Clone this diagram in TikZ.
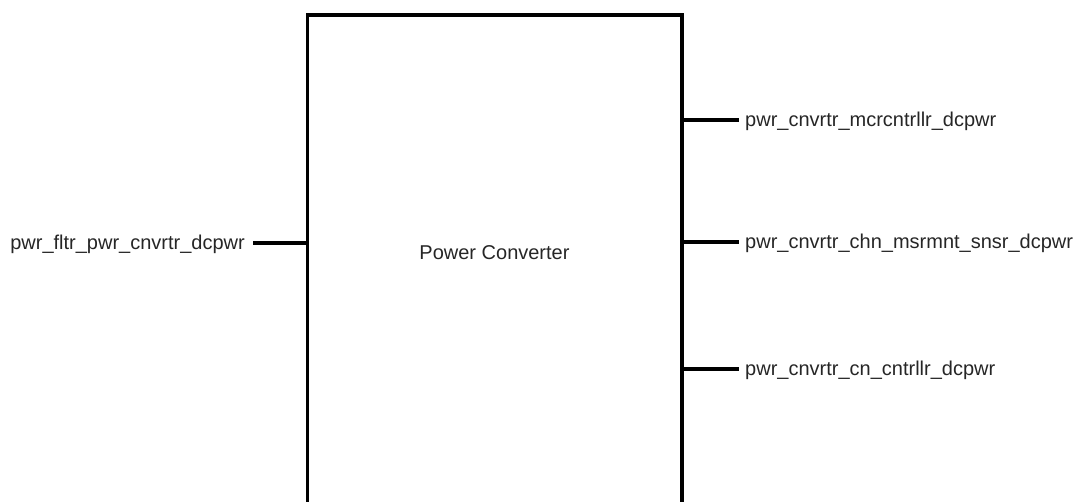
\documentclass[tikz,border=0pt]{standalone}
\usepackage{fontspec}
\setmainfont{Liberation Sans}
\begin{document}
\begin{tikzpicture}[x=1pt,y=-1pt,
  wire/.style={line width=3.8pt,black},
  lbl/.style={inner sep=0pt,font=\fontsize{20}{22}\selectfont,text=black!85}]
\useasboundingbox (0,0) rectangle (1078,501);
\clip (0,0) rectangle (1078,501);
% box outline (open at bottom edge of picture)
\coordinate (bl) at (307.5,510);
\coordinate (tl) at (307.5,15);
\coordinate (tr) at (682,15);
\coordinate (br) at (682,510);
\draw[wire,line join=miter] (bl) -- (tl) -- (tr) -- (br);
\node[lbl] (title) at (494.5,253) {Power Converter};
% ports
\coordinate (pin) at (307.5,243);
\coordinate (pinEnd) at (253,243);
\coordinate (p1) at (682,120);
\coordinate (p1End) at (739,120);
\coordinate (p2) at (682,242);
\coordinate (p2End) at (739,242);
\coordinate (p3) at (682,369);
\coordinate (p3End) at (739,369);
\draw[wire] (pin) -- (pinEnd);
\draw[wire] (p1) -- (p1End);
\draw[wire] (p2) -- (p2End);
\draw[wire] (p3) -- (p3End);
\node[lbl,anchor=east] (lin) at (245,244) {pwr\_fltr\_pwr\_cnvrtr\_dcpwr};
\node[lbl,anchor=west] (l1) at (745,121) {pwr\_cnvrtr\_mcrcntrllr\_dcpwr};
\node[lbl,anchor=west] (l2) at (745,243) {pwr\_cnvrtr\_chn\_msrmnt\_snsr\_dcpwr};
\node[lbl,anchor=west] (l3) at (745,370) {pwr\_cnvrtr\_cn\_cntrllr\_dcpwr};
\end{tikzpicture}
\end{document}
